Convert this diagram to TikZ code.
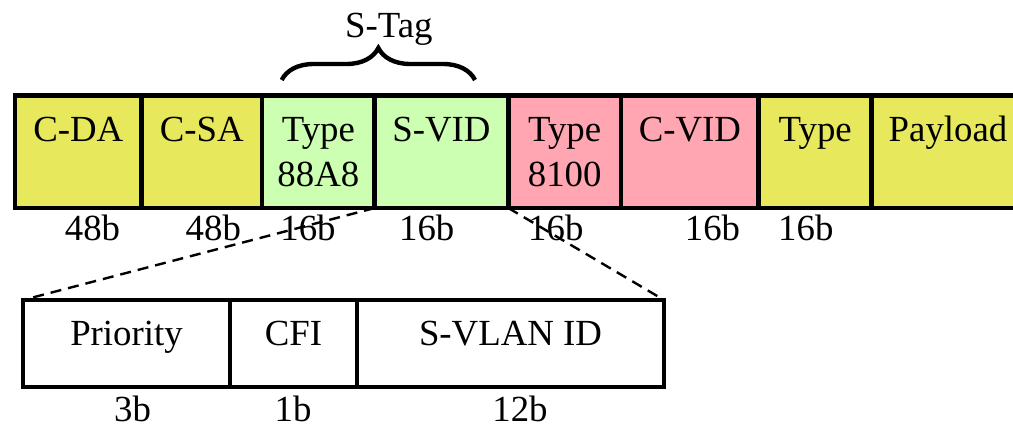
\documentclass[tikz,border=0pt]{standalone}
\usepackage{fontspec}
\setmainfont{Liberation Serif}
\usepackage{xcolor}
\usetikzlibrary{positioning,calc,decorations.pathreplacing}

\definecolor{fieldyellow}{RGB}{232,232,92}
\definecolor{fieldgreen}{RGB}{204,255,178}
\definecolor{fieldpink}{RGB}{255,166,178}

\newcommand{\twolines}[2]{\begin{tabular}[t]{@{}c@{}}#1\\#2\end{tabular}}

\tikzset{
  field/.style={draw, line width=2.4pt, outer sep=0pt, inner sep=0pt, rectangle},
  ftext/.style={anchor=base, inner sep=0pt, font=\fontsize{18.4}{22.15}\selectfont},
  bits/.style={anchor=base, inner sep=0pt, font=\fontsize{18.4}{22.15}\selectfont},
  zoomline/.style={line width=1.2pt, dash pattern=on 5.5pt off 3.5pt}
}

\begin{document}
\begin{tikzpicture}[x=0.5pt, y=-0.5pt]
    \useasboundingbox (0,0) rectangle (1013,428);
    \clip (0,0) rectangle (1013,428);

    % Outer frame: C-tagged frame with S-Tag
    \node [field, fill=fieldyellow, minimum width=63.35pt, minimum height=56.25pt, anchor=north west] (cda) at (15,95.5) {};
    \node [field, fill=fieldyellow, minimum width=60.15pt, minimum height=56.25pt, right=0pt of cda] (csa) {};
    \node [field, fill=fieldgreen, minimum width=56.35pt, minimum height=56.25pt, right=0pt of csa] (stype) {};
    \node [field, fill=fieldgreen, minimum width=66.8pt, minimum height=56.25pt, right=0pt of stype] (svid) {};
    \node [field, fill=fieldpink, minimum width=56.35pt, minimum height=56.25pt, right=0pt of svid] (ctype) {};
    \node [field, fill=fieldpink, minimum width=68.9pt, minimum height=56.25pt, right=0pt of ctype] (cvid) {};
    \node [field, fill=fieldyellow, minimum width=56.45pt, minimum height=56.25pt, right=0pt of cvid] (etype) {};
    \node [field, fill=fieldyellow, minimum width=76.3pt, minimum height=56.25pt, right=0pt of etype] (payload) {};

    \node [ftext] (cda-t) at ([yshift=-23.1pt]cda.north) {C-DA};
    \node [ftext] (csa-t) at ([yshift=-23.1pt]csa.north) {C-SA};
    \node [ftext] (stype-t) at ([yshift=-23.1pt]stype.north) {\twolines{Type}{88A8}};
    \node [ftext] (svid-t) at ([yshift=-23.1pt]svid.north) {S-VID};
    \node [ftext] (ctype-t) at ([yshift=-23.1pt]ctype.north) {\twolines{Type}{8100}};
    \node [ftext] (cvid-t) at ([yshift=-23.1pt]cvid.north) {C-VID};
    \node [ftext] (etype-t) at ([yshift=-23.1pt]etype.north) {Type};
    \node [ftext] (payload-t) at ([yshift=-23.1pt]payload.north) {Payload};

    % Field sizes
    \node [bits] (cda-b) at (92.5,240.7) {48b};
    \node [bits] (csa-b) at (213.3,240.7) {48b};
    \node [bits] (stype-b) at (308,240.7) {16b};
    \node [bits] (svid-b) at (426.7,240.7) {16b};
    \node [bits] (ctype-b) at (555.8,240.7) {16b};
    \node [bits] (cvid-b) at (712.5,240.7) {16b};
    \node [bits] (etype-b) at (805.8,240.7) {16b};

    % S-Tag brace
    \draw [line width=2.2pt, decorate, decoration={brace, amplitude=16pt}]
        ([xshift=9.85pt, yshift=7.75pt]stype.north west) -- ([xshift=-16.65pt, yshift=7.75pt]svid.north east);
    \node [bits] (stag) at (388.8,37) {S-Tag};

    % S-VID breakdown
    \node [field, minimum width=103.5pt, minimum height=43.5pt, anchor=north west] (prio) at (23,300) {};
    \node [field, minimum width=63.5pt, minimum height=43.5pt, right=0pt of prio] (cfi) {};
    \node [field, minimum width=153.5pt, minimum height=43.5pt, right=0pt of cfi] (svlan) {};

    \node [ftext] (prio-t) at ([yshift=-22.85pt]prio.north) {Priority};
    \node [ftext] (cfi-t) at ([yshift=-22.85pt]cfi.north) {CFI};
    \node [ftext] (svlan-t) at ([yshift=-22.85pt]svlan.north) {S-VLAN ID};

    \node [bits] (prio-b) at (132.5,421) {3b};
    \node [bits] (cfi-b) at (293,421) {1b};
    \node [bits] (svlan-b) at (520,421) {12b};

    \draw [zoomline] (svid.south west) -- (prio.north west);
    \draw [zoomline] (svid.south east) -- (svlan.north east);
\end{tikzpicture}
\end{document}
